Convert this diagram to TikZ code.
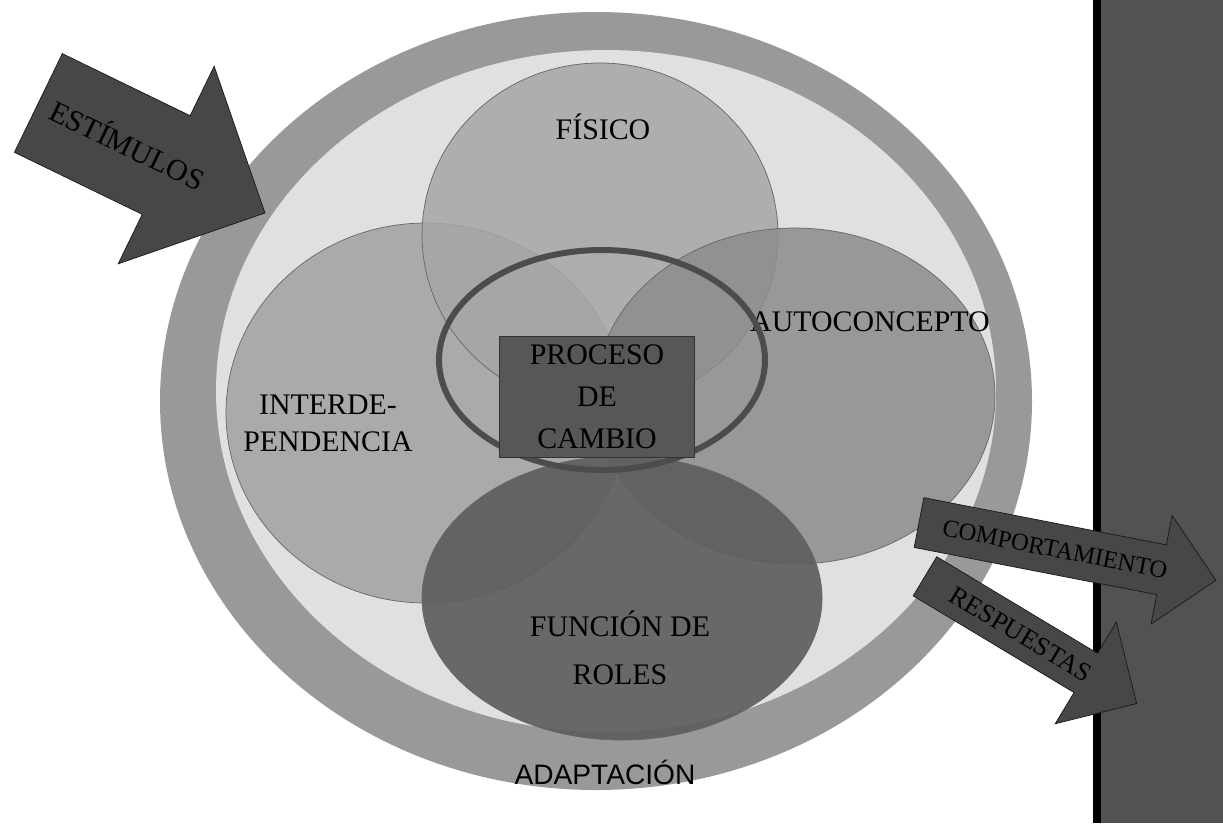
\documentclass[tikz,border=0pt]{standalone}
\usepackage{fontspec}
\setmainfont{Liberation Serif}
\setsansfont{Liberation Sans}
\usetikzlibrary{shapes.arrows}

\begin{document}
\begin{tikzpicture}[x=0.02cm, y=-0.02cm,
    mode/.style={draw=black!60, fill opacity=0.85},
    modetext/.style={align=center, font=\fontsize{17}{21}\selectfont},
    bigarrow/.style={single arrow, draw=black!90, fill=black!72, text=black, inner xsep=0pt, text depth=0pt, single arrow tip angle=90}]
    \useasboundingbox (0, 0) rectangle (1223, 823);
    \clip (0, 0) rectangle (1223, 823);

    % Adaptation ring
    \fill[black!40] (596, 401) ellipse [x radius=436, y radius=389];
    \fill[black!12] (606, 391) ellipse [x radius=390, y radius=341];
    \node[font=\sffamily\fontsize{16}{19}\selectfont] (adaptacion) at (605, 772) {ADAPTACIÓN};

    % Modes
    \filldraw[mode, fill=black!37] (426, 413) ellipse [x radius=200, y radius=190];
    \filldraw[mode, fill=black!35] (600, 235) ellipse [x radius=178, y radius=172];
    \filldraw[mode, fill=black!45] (795, 396) ellipse [x radius=200, y radius=168];
    \filldraw[mode, fill=black!63, fill opacity=0.92] (622, 598) ellipse [x radius=200, y radius=142];

    \node[modetext] (fisico) at (603, 127) {FÍSICO};
    \node[modetext] (autoconcepto) at (870, 322) {AUTOCONCEPTO};
    \node[modetext] (interdependencia) at (328, 423) {INTERDE-\\PENDENCIA};
    \node[modetext, font=\fontsize{17}{27}\selectfont] (roles) at (620, 648) {FUNCIÓN DE\\ROLES};

    % Coping process
    \draw[line width=0.12cm, black!70] (602, 360) ellipse [x radius=163, y radius=110];
    \node[draw=black!80, fill=black!66, minimum width=3.9cm, minimum height=2.42cm,
        modetext, font=\fontsize{17}{24}\selectfont] (proceso) at (597, 397) {PROCESO\\DE\\CAMBIO};

    % Stimuli
    \node[bigarrow, rotate=-25.9, minimum height=5.04cm, text height=0.4cm, inner ysep=0.89cm,
        single arrow head extend=1.1cm, font=\fontsize{17}{20}\selectfont] (estimulos) at (127, 146) {ESTÍMULOS};

    % Right panel
    \fill[black!68] (1093, 0) rectangle (1223, 823);
    \fill[black] (1093, 0) rectangle (1101, 823);

    % Outputs
    \node[bigarrow, rotate=-31, minimum height=4.94cm, text height=0.35cm, inner ysep=0.275cm,
        single arrow head extend=0.73cm, font=\fontsize{15}{18}\selectfont] (respuestas) at (1021, 634) {RESPUESTAS};
    \node[bigarrow, rotate=-11, minimum height=6.05cm, text height=0.33cm, inner ysep=0.335cm,
        single arrow head extend=0.6cm, font=\fontsize{14}{17}\selectfont] (comportamiento) at (1055, 549) {COMPORTAMIENTO};
\end{tikzpicture}
\end{document}
